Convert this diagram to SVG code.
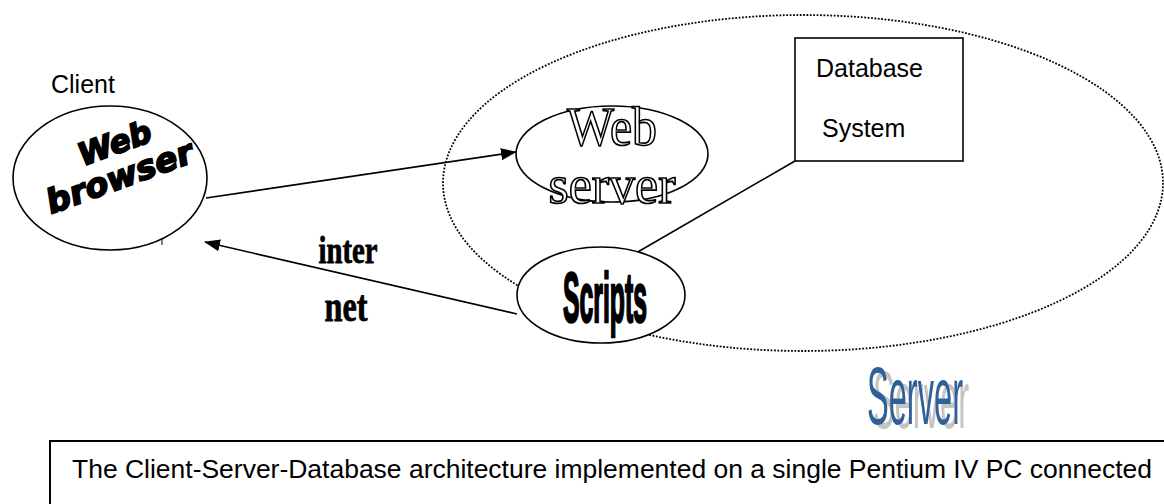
<svg xmlns="http://www.w3.org/2000/svg" width="1164" height="504" viewBox="0 0 1164 504">
<style>
.node{fill:#fff;stroke:#000;stroke-width:1.6}
.lbl{font-family:"Liberation Sans",Arial,sans-serif;font-size:25px;fill:#000}
.conn{stroke:#000;stroke-width:1.6;fill:none}
.outline{font-family:"Liberation Serif","Times New Roman",serif;font-size:55px;fill:#fff;stroke:#000;stroke-width:1.7;text-anchor:middle}
</style>
<defs>
<marker id="arr" markerWidth="16" markerHeight="12" refX="15" refY="6" orient="auto" markerUnits="userSpaceOnUse">
<path d="M0,0 L16,6 L0,12 z" fill="#000"/>
</marker>
<filter id="shadow" x="-20%" y="-20%" width="150%" height="150%">
<feFlood flood-color="#c4c4c4" result="g"/>
<feComposite in="g" in2="SourceAlpha" operator="in" result="gs"/>
<feOffset in="gs" dx="6" dy="4" result="off"/>
<feMerge><feMergeNode in="off"/><feMergeNode in="SourceGraphic"/></feMerge>
</filter>
</defs>
<rect width="1164" height="504" fill="#fff"/>

<g id="server-boundary">
<ellipse cx="803" cy="183" rx="360" ry="168" fill="none" stroke="#000" stroke-width="1.8" stroke-dasharray="1.8 1.6"/>
</g>

<g id="connectors">
<line class="conn" x1="206" y1="198" x2="516" y2="152" marker-end="url(#arr)"/>
<line class="conn" x1="517" y1="314" x2="205" y2="242" marker-end="url(#arr)"/>
<line class="conn" x1="636" y1="253" x2="795" y2="161"/>
</g>

<g id="client">
<text class="lbl" x="51" y="93">Client</text>
<ellipse class="node" cx="110" cy="178" rx="97" ry="72"/>
<line x1="162" y1="239" x2="162" y2="245" stroke="#000" stroke-width="1"/>
<g transform="rotate(-20 112 162)" font-family="'DejaVu Sans',Verdana,sans-serif" font-weight="bold" font-style="italic" text-anchor="middle" fill="#000" stroke="#000" stroke-width="1.8">
<text x="121" y="156" font-size="31" textLength="76" lengthAdjust="spacingAndGlyphs">Web</text>
<text x="114" y="190" font-size="33" textLength="154" lengthAdjust="spacingAndGlyphs">browser</text>
</g>
</g>

<g id="web-server">
<ellipse class="node" cx="612" cy="154" rx="96" ry="48"/>
<text class="outline" x="612" y="145" textLength="90" lengthAdjust="spacingAndGlyphs">Web</text>
<text class="outline" x="612" y="203" textLength="127" lengthAdjust="spacingAndGlyphs">server</text>
</g>

<g id="scripts">
<ellipse class="node" cx="601" cy="295" rx="84" ry="48"/>
<g transform="translate(605 322) scale(1 1.6)">
<text x="0" y="0" font-family="'Liberation Sans',Arial,sans-serif" font-weight="bold" font-size="44" text-anchor="middle" fill="#000" stroke="#000" stroke-width="1.6" textLength="84" lengthAdjust="spacingAndGlyphs">Scripts</text>
</g>
</g>

<g id="database">
<rect class="node" x="795" y="38" width="168" height="123"/>
<text class="lbl" x="816" y="77">Database</text>
<text class="lbl" x="822" y="137">System</text>
</g>

<g id="internet-label" font-family="'Liberation Serif','Times New Roman',serif" font-weight="bold" fill="#000" stroke="#000" stroke-width="0.8" text-anchor="middle">
<text x="348" y="263" font-size="38" textLength="59" lengthAdjust="spacingAndGlyphs">inter</text>
<text x="346" y="321" font-size="44" textLength="43" lengthAdjust="spacingAndGlyphs">net</text>
</g>

<g id="server-label" font-family="'Liberation Sans',Arial,sans-serif" font-size="40" filter="url(#shadow)">
<g transform="translate(867 424) scale(1 2.06)">
<text x="0" y="0" fill="#2f6199" textLength="96" lengthAdjust="spacingAndGlyphs">Server</text>
</g>
</g>

<g id="caption">
<path d="M50,504 L50,441 L1164,441" fill="none" stroke="#000" stroke-width="2"/>
<text class="lbl" x="72" y="478" textLength="1080" lengthAdjust="spacingAndGlyphs">The Client-Server-Database architecture implemented on a single Pentium IV PC connected</text>
</g>
</svg>
